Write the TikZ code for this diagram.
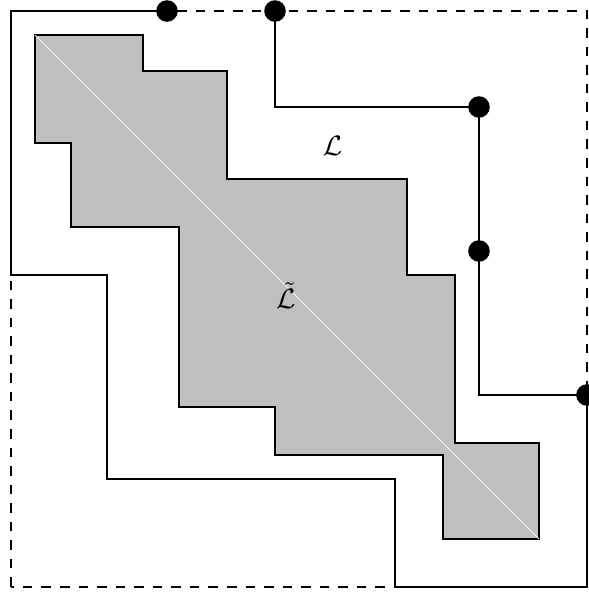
\documentclass[tikz,border=0pt]{standalone}
\usepackage{amsmath}
\usepackage{amssymb}
\usepackage{tikz}
\usepackage{xcolor}

\begin{document}
\begin{tikzpicture}[x=0.15cm, y=0.15cm,
    wall/.style={draw, line width=0.6pt},
    region/.style={draw, line width=0.6pt, fill=lightgray},
    boxline/.style={draw, dash pattern=on 3.4pt off 3.2pt, line width=0.6pt},
    dot/.style={circle, fill=black, inner sep=0pt, minimum size=0.27cm},
    lbl/.style={font=\normalsize}
]
\useasboundingbox (-0.917,-0.417) rectangle (48.167,48.917);

% --- Domain (dashed box) ---
\draw[boxline] (0,0) rectangle (48,48);

% --- Points on the boundary ---
\coordinate (p1) at (13,48);
\coordinate (p2) at (22,48);
\coordinate (p3) at (39,40);
\coordinate (p4) at (39,28);
\coordinate (p5) at (48,16);

% --- Inner region (shaded) ---
\draw[region] (2,46) -- (11,46) -- (11,43) -- (18,43) -- (18,34)
    -- (33,34) -- (33,26) -- (37,26) -- (37,12) -- (44,12) -- (44,4)
    -- (36,4) -- (36,11) -- (22,11) -- (22,15) -- (14,15) -- (14,30)
    -- (5,30) -- (5,37) -- (2,37) -- cycle;
\draw[white!75!lightgray, line width=0.3pt] (2,46) -- (44,4);

% --- Outer region L: lower-left wall ---
\draw[wall] (p1) -- (0,48) -- (0,26) -- (8,26) -- (8,9) -- (32,9)
    -- (32,0) -- (48,0) -- (p5);

% --- Outer region L: upper-right wall ---
\draw[wall] (p2) -- (22,40) -- (p3) -- (p4) -- (39,16) -- (p5);

% --- Dots ---
\foreach \p in {p1,p2,p3,p4,p5}
    \node[dot] (d\p) at (\p) {};

% --- Labels ---
\node[lbl] (lL) at (26.8,36.8) {$\mathcal{L}$};
\node[lbl] (lLt) at (22.9,24.3) {$\tilde{\mathcal{L}}$};
\end{tikzpicture}
\end{document}
